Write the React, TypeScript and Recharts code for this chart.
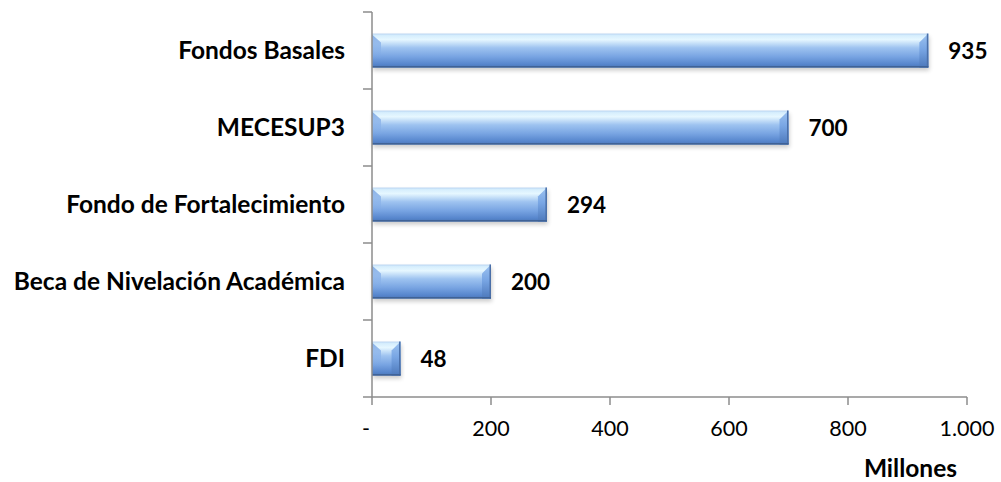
import { Bar, BarChart, LabelList, XAxis, YAxis } from 'recharts'

// Fondos por programa, en millones. Barras horizontales con el efecto
// biselado de Excel (degradado vertical + biseles en los extremos).

const CATEGORIES = [
  'Fondos Basales',
  'MECESUP3',
  'Fondo de Fortalecimiento',
  'Beca de Nivelación Académica',
  'FDI',
]
const VALUES = [935, 700, 294, 200, 48]
const X_TICKS = [0, 200, 400, 600, 800, 1000]

const data = CATEGORIES.map((name, i) => ({ name, value: VALUES[i] }))

const FONT = 'Lato, "Open Sans", sans-serif'
const AXIS = '#8c8c8c'
const W = 1001
const H = 482
const MARGIN = { top: 12, right: 34, bottom: 0, left: 0 }
const X_AXIS_H = 85
const HALF_BAND = (H - MARGIN.top - X_AXIS_H) / CATEGORIES.length / 2

function fmtTick(v: number) {
  if (v === 0) return '-'
  return v.toLocaleString('de-DE')
}

function CategoryTick(props: any) {
  const { x, y, payload, index } = props
  const axisX = x + 27
  const last = index === CATEGORIES.length - 1
  return (
    <g>
      <line x1={axisX - 9} x2={axisX} y1={y - HALF_BAND} y2={y - HALF_BAND} stroke={AXIS} strokeWidth={1.5} />
      {last && (
        <line x1={axisX - 9} x2={axisX} y1={y + HALF_BAND} y2={y + HALF_BAND} stroke={AXIS} strokeWidth={1.5} />
      )}
      <text
        x={x}
        y={y}
        dy="0.36em"
        textAnchor="end"
        fill="#000"
        style={{ fontFamily: FONT, fontWeight: 700, fontSize: 24.5 }}
      >
        {payload.value}
      </text>
    </g>
  )
}

function XTick(props: any) {
  const { x, y, payload } = props
  const zero = payload.value === 0
  return (
    <text
      x={zero ? x - 6 : x}
      y={y}
      dy="0.71em"
      textAnchor="middle"
      fill="#000"
      style={{ fontFamily: FONT, fontSize: 21.5 }}
    >
      {fmtTick(payload.value)}
    </text>
  )
}

function BevelBar(props: any) {
  const { x, y, width, height } = props
  if (!width || width <= 0) return null
  const b = Math.min(9, width / 3)
  return (
    <g>
      <rect x={x + 1} y={y + 3} width={width} height={height} fill="#000" opacity={0.2} filter="url(#barShadow)" />
      <rect x={x} y={y} width={width} height={height} fill="url(#barGrad)" />
      <polygon
        points={`${x},${y + 1} ${x + b},${y + b} ${x + b},${y + height} ${x},${y + height}`}
        fill="url(#leftBevel)"
      />
      <polygon
        points={`${x + width - b},${y + b} ${x + width},${y} ${x + width},${y + height} ${x + width - b},${y + height}`}
        fill="url(#rightBevel)"
      />
      <line x1={x + width - 0.75} x2={x + width - 0.75} y1={y} y2={y + height} stroke="#4a6fa8" strokeWidth={1.5} />
      <line x1={x} x2={x + width} y1={y + height - 0.75} y2={y + height - 0.75} stroke="#3f6296" strokeWidth={1.5} />
    </g>
  )
}

export default function App() {
  return (
    <div style={{ position: 'absolute', left: 0, top: 0, width: W, height: H, background: '#fff' }}>
      <BarChart width={W} height={H} data={data} layout="vertical" margin={MARGIN} barCategoryGap="28%">
        <defs>
          <linearGradient id="barGrad" x1="0" y1="0" x2="0" y2="1">
            <stop offset="0%" stopColor="#b9d4f2" />
            <stop offset="6%" stopColor="#d6eefd" />
            <stop offset="18%" stopColor="#e6f7ff" />
            <stop offset="42%" stopColor="#9ec3f0" />
            <stop offset="68%" stopColor="#78a4e2" />
            <stop offset="90%" stopColor="#5786cd" />
            <stop offset="100%" stopColor="#4b76b7" />
          </linearGradient>
          <linearGradient id="leftBevel" x1="0" y1="0" x2="0" y2="1">
            <stop offset="0%" stopColor="#86afe8" stopOpacity={1} />
            <stop offset="45%" stopColor="#86afe8" stopOpacity={0.6} />
            <stop offset="75%" stopColor="#78a4e2" stopOpacity={0} />
          </linearGradient>
          <linearGradient id="rightBevel" x1="0" y1="0" x2="0" y2="1">
            <stop offset="0%" stopColor="#9cc2f0" />
            <stop offset="45%" stopColor="#79a6e4" />
            <stop offset="100%" stopColor="#4c78bb" />
          </linearGradient>
          <filter id="barShadow" x="-10%" y="-50%" width="120%" height="200%">
            <feGaussianBlur stdDeviation="2" />
          </filter>
        </defs>
        <XAxis
          type="number"
          domain={[0, 1000]}
          ticks={X_TICKS}
          height={X_AXIS_H}
          tickSize={8}
          tickMargin={16}
          stroke={AXIS}
          axisLine={{ stroke: AXIS, strokeWidth: 1.5 }}
          tickLine={{ stroke: AXIS, strokeWidth: 1.5 }}
          tick={<XTick />}
          label={{
            value: 'Millones',
            position: 'insideBottomRight',
            offset: 10,
            dy: 5,
            style: { fill: '#000', fontSize: 24.5, fontWeight: 700, fontFamily: FONT },
          }}
        />
        <YAxis
          type="category"
          dataKey="name"
          width={372}
          tickSize={9}
          tickMargin={18}
          tickLine={false}
          axisLine={{ stroke: AXIS, strokeWidth: 1.5 }}
          tick={<CategoryTick />}
          interval={0}
        />
        <Bar dataKey="value" shape={<BevelBar />} isAnimationActive={false}>
          <LabelList
            dataKey="value"
            position="right"
            offset={20}
            style={{ fill: '#000', fontSize: 22.5, fontWeight: 700, fontFamily: FONT }}
          />
        </Bar>
      </BarChart>
    </div>
  )
}
